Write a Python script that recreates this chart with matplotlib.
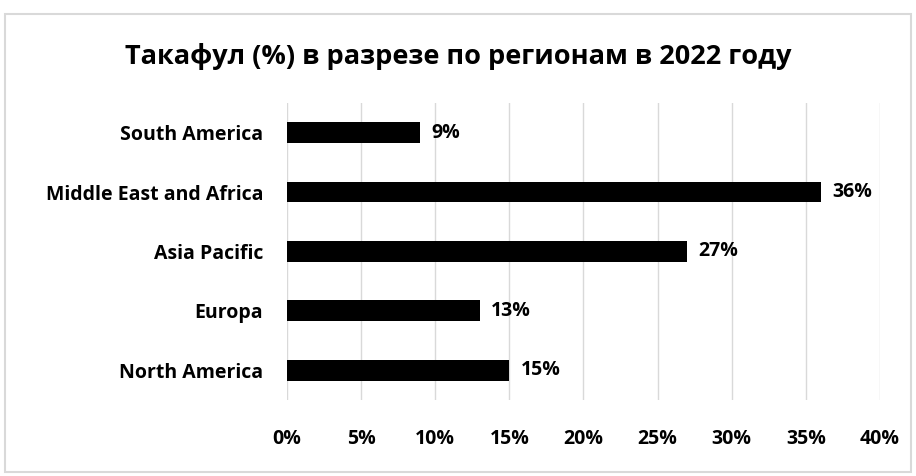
import matplotlib.pyplot as plt
from matplotlib.patches import Rectangle

regions = ['North America', 'Europa', 'Asia Pacific', 'Middle East and Africa', 'South America']
shares = [15, 13, 27, 36, 9]
xticks = [0, 5, 10, 15, 20, 25, 30, 35, 40]
title = 'Такафул (%) в разрезе по регионам в 2022 году'

plt.rcParams['font.family'] = ['Open Sans', 'DejaVu Sans']
plt.rcParams['font.weight'] = 'bold'

fig = plt.figure(figsize=(9.16, 4.76), dpi=100)
ax = fig.add_axes([0.3133, 0.1597, 0.9607 - 0.3133, 0.7836 - 0.1597])

# outer frame of the chart
fig.patches.append(Rectangle((5 / 916, 4 / 476), 906 / 916, 458 / 476, transform=fig.transFigure,
                             fill=False, edgecolor='#d9d9d9', linewidth=1.5))

y = list(range(len(regions)))
ax.barh(y, shares, height=0.35, color='black', zorder=3)
for yi, v in zip(y, shares):
    ax.text(v + 0.75, yi, f'{v}%', va='center', ha='left', fontsize=14, fontweight='bold', zorder=4)

ax.set_xlim(0, 40)
ax.set_ylim(-0.5, len(regions) - 0.5)
ax.set_xticks(xticks)
ax.set_xticklabels([f'{t}%' for t in xticks], fontsize=14, fontweight='bold')
ax.set_yticks(y)
ax.set_yticklabels(regions, fontsize=14, fontweight='bold')
ax.tick_params(axis='both', length=0)
ax.tick_params(axis='x', pad=21)
ax.tick_params(axis='y', pad=17)
ax.grid(axis='x', color='#d9d9d9', linewidth=1, zorder=0)
for s in ax.spines.values():
    s.set_visible(False)

fig.text(0.5, 1 - 57 / 476, title, ha='center', va='center', fontsize=19.5, fontweight='bold')

fig.savefig('out.png', dpi=100)
